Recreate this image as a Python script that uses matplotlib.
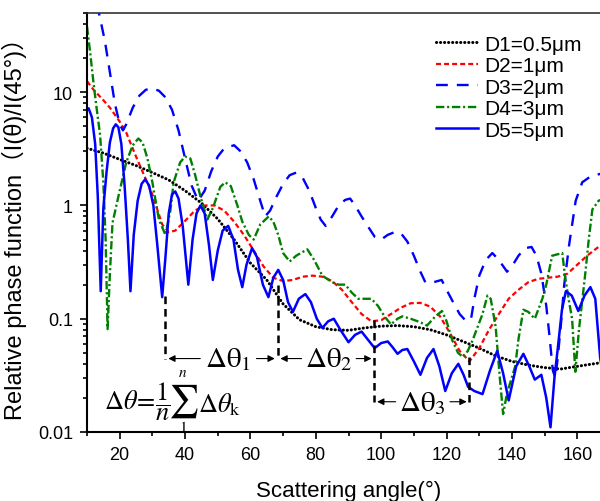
import matplotlib
matplotlib.use("Agg")
import matplotlib.pyplot as plt
from matplotlib.ticker import MultipleLocator, FixedLocator, LogLocator, NullFormatter

plt.rcParams["font.family"] = ["Liberation Sans", "Noto Sans CJK SC", "DejaVu Sans"]
plt.rcParams["mathtext.fontset"] = "stix"
plt.rcParams["lines.scale_dashes"] = False

# D1 = 0.5 um
d1_x = [10, 15, 20, 25, 30, 35, 40, 45, 50, 55, 60, 65, 70, 75, 80, 85, 90, 95, 100,
        105, 110, 115, 120, 125, 130, 135, 140, 145, 150, 155, 160, 165, 170]
d1_y = [3.2, 2.9, 2.55, 2.25, 1.95, 1.68, 1.35, 1.05, 0.76, 0.5, 0.31, 0.22, 0.135,
        0.098, 0.085, 0.08, 0.079, 0.083, 0.086, 0.087, 0.085, 0.08, 0.072, 0.063,
        0.055, 0.047, 0.042, 0.039, 0.037, 0.036, 0.038, 0.040, 0.042]

# D2 = 1 um
d2_x = [10, 12, 15, 17, 20, 22, 25, 28, 30, 33, 35, 37, 40, 43, 46, 49, 52, 55, 58, 61,
        64, 67, 70, 73, 76, 79, 82, 85, 88, 91, 94, 97, 100, 103, 106, 109, 112, 115,
        118, 121, 124, 127, 130, 133, 136, 139, 142, 145, 148, 151, 154, 157, 160, 163,
        166, 170]
d2_y = [12.5, 10.5, 8.5, 7.3, 5.5, 4.4, 2.7, 1.7, 1.25, 0.68, 0.58, 0.6, 0.73, 0.9, 1.0,
        1.0, 0.9, 0.72, 0.55, 0.4, 0.29, 0.23, 0.215, 0.22, 0.235, 0.24, 0.235, 0.215,
        0.18, 0.14, 0.11, 0.095, 0.097, 0.11, 0.125, 0.137, 0.138, 0.128, 0.105, 0.075,
        0.052, 0.042, 0.055, 0.08, 0.11, 0.15, 0.18, 0.21, 0.225, 0.23, 0.235, 0.25,
        0.3, 0.36, 0.42, 0.5]

# D3 = 2 um
d3_x = [13, 14, 15.5, 17, 18.5, 20, 21, 22, 24, 26, 28, 30, 32, 34, 36, 38, 40, 42, 44,
        46, 48, 50, 52, 55, 57, 59, 61, 63, 64.5, 66, 68, 70, 72, 74, 76, 78, 80, 81.5,
        83, 85, 87, 89, 90.5, 92, 94, 96, 98, 100, 102, 104, 106, 108, 110, 112, 113.5,
        116, 118.5, 120, 122, 124, 126, 127.5, 128.5, 130, 132, 134, 136, 138.5, 140,
        142, 144, 146, 147.5, 149, 150.5, 151.5, 152.5, 153.3, 154, 155, 156, 157.5,
        159.5, 161.5, 164, 167, 170]
d3_y = [60, 45, 28, 15, 8, 5.2, 4.6, 5.2, 7.3, 9.3, 10.5, 10.8, 10.3, 9, 7, 4.6, 2.6,
        1.5, 1.1, 1.35, 2.0, 2.7, 3.2, 3.4, 3.0, 2.4, 1.7, 1.1, 0.8, 0.9, 1.2, 1.55,
        1.85, 1.95, 1.75, 1.35, 0.95, 0.75, 0.66, 0.8, 1.0, 1.12, 1.15, 1.0, 0.8, 0.65,
        0.53, 0.5, 0.55, 0.58, 0.57, 0.48, 0.36, 0.26, 0.21, 0.21, 0.22, 0.18, 0.14,
        0.11, 0.095, 0.1, 0.15, 0.24, 0.33, 0.38, 0.33, 0.26, 0.29, 0.36, 0.42, 0.43,
        0.36, 0.25, 0.13, 0.07, 0.035, 0.03, 0.045, 0.09, 0.2, 0.45, 1.1, 1.6, 1.8,
        1.9, 2.0]

# D4 = 3 um
d4_x = [10, 11, 12, 13, 14, 15, 15.7, 16.3, 17, 17.8, 19.6, 22, 24, 25.7, 27, 28.5, 30,
        32, 34, 35.5, 36.5, 38.5, 40, 41.6, 43, 44.7, 46.8, 48.5, 50.8, 52.3, 54, 56,
        57.5, 59.5, 61, 63, 65.6, 67, 68.5, 70, 72, 74, 77.4, 79.5, 82, 85, 87, 89, 91,
        93, 97, 99, 101, 103, 105, 106.5, 109, 112, 114, 116.6, 118.6, 120, 121.7,
        123.5, 125, 126.5, 128, 131, 132.5, 133.5, 135, 136.3, 137.3, 138.5, 141, 142,
        143.5, 145, 147, 149.3, 150.5, 152.3, 155.4, 156.3, 157.5, 158.4, 159.4, 160.5,
        162.3, 163.5, 164.6, 166.5, 170]
d4_y = [38, 22, 12, 7, 4.2, 1.6, 0.5, 0.081, 0.25, 0.7, 1.2, 2.4, 3.4, 3.9, 3.6, 2.6,
        1.6, 0.75, 0.55, 0.9, 1.6, 2.4, 2.7, 2.6, 1.9, 1.2, 0.75, 0.95, 1.46, 1.6, 1.48,
        1.0, 0.72, 0.55, 0.5, 0.68, 0.8, 0.72, 0.55, 0.38, 0.32, 0.36, 0.41, 0.33, 0.24,
        0.21, 0.2, 0.2, 0.17, 0.15, 0.15, 0.13, 0.105, 0.089, 0.1, 0.105, 0.1, 0.093,
        0.087, 0.105, 0.117, 0.095, 0.065, 0.05, 0.046, 0.052, 0.065, 0.11, 0.16, 0.15,
        0.086, 0.03, 0.0144, 0.022, 0.038, 0.066, 0.12, 0.115, 0.1, 0.15, 0.2, 0.36,
        0.38, 0.23, 0.14, 0.1, 0.034, 0.08, 0.23, 0.5, 0.92, 1.1, 1.2]

# D5 = 5 um
d5_x = [10, 10.5, 11.5, 12.5, 13.3, 14.2, 15, 16, 17, 18, 18.8, 19.6, 20.5, 21.5, 22.5,
        23.3, 24.3, 25.5, 26.7, 27.8, 29, 30.3, 31.5, 33, 34, 35, 36, 37, 38, 39.3, 41,
        42.3, 43.5, 44.7, 46, 47.3, 48.5, 50, 51.5, 53.2, 54.8, 56.2, 57.5, 58.8, 60.5,
        62, 63.8, 65.5, 67, 68.5, 70, 71.5, 73, 74.8, 76.8, 78.5, 80.3, 82, 83.8, 85.5,
        87.5, 90, 92, 94, 96, 98, 100, 102, 103.5, 105, 106.5, 108, 110, 112, 114, 116,
        117.8, 119.6, 121.6, 123.6, 125.2, 126.6, 128.5, 131, 133.3, 135.5, 137.3, 139,
        141.3, 143.5, 145.3, 147, 149, 150.5, 151.8, 153, 154, 155.3, 156.5, 158.3,
        160.3, 162.2, 164, 165.5, 167, 168]
d5_y = [7.0, 7.2, 6.0, 3.5, 1.2, 0.175, 0.95, 2.0, 3.6, 4.8, 5.2, 4.9, 3.5, 1.5, 0.5,
        0.175, 0.55, 1.1, 1.55, 1.7, 1.5, 1.0, 0.45, 0.155, 0.35, 0.85, 1.25, 1.33, 1.15,
        0.65, 0.2, 0.5, 0.85, 1.0, 0.85, 0.45, 0.22, 0.4, 0.6, 0.66, 0.5, 0.27, 0.19, 0.3,
        0.42, 0.35, 0.2, 0.155, 0.23, 0.27, 0.22, 0.14, 0.115, 0.15, 0.165, 0.14, 0.1,
        0.083, 0.095, 0.1, 0.08, 0.062, 0.072, 0.077, 0.065, 0.055, 0.061, 0.063, 0.056,
        0.049, 0.053, 0.054, 0.042, 0.032, 0.045, 0.054, 0.038, 0.023, 0.033, 0.04,
        0.032, 0.025, 0.023, 0.0216, 0.035, 0.052, 0.033, 0.019, 0.038, 0.049, 0.038,
        0.029, 0.032, 0.02, 0.011, 0.03, 0.054, 0.12, 0.175, 0.16, 0.117, 0.16, 0.19,
        0.15, 0.045, 0.03]

# interval markers (angle, top of dashed line, bottom of dashed line)
mark_angles = [34, 68.3, 97.9, 127]
mark_tops = [0.16, 0.2, 0.097, 0.046]
mark_bottoms = [0.0445, 0.0445, 0.0185, 0.0185]

fig = plt.figure(figsize=(6.0, 5.02), dpi=100)
ax = fig.add_axes([87 / 600, 69 / 502, 523 / 600, 419 / 502])

ax.plot(d1_x, d1_y, color="black", lw=2.2, linestyle=(0, (0.1, 2.8)),
        dash_capstyle="round", label="D1=0.5μm")
ax.plot(d2_x, d2_y, color="red", lw=1.6, dashes=(3.6, 2.2), label="D2=1μm")
ax.plot(d3_x, d3_y, color="#0000ff", lw=1.7, dashes=(8.5, 6.5), label="D3=2μm")
ax.plot(d4_x, d4_y, color="#008000", lw=1.7, dashes=(6, 2, 1.5, 2), label="D4=3μm")
ax.plot(d5_x, d5_y, color="#0000ff", lw=1.8, label="D5=5μm")

for a, top, bot in zip(mark_angles, mark_tops, mark_bottoms):
    ax.plot([a, a], [top, bot], color="black", lw=1.8, dashes=(5.5, 3.5))

arrow = dict(arrowstyle="-|>", color="black", lw=0.8, mutation_scale=10)
txt = dict(fontsize=21, va="center", ha="center")
y12 = mark_bottoms[0]
ax.text(53, y12, r"$\Delta\mathrm{\theta}_1$", **txt)
ax.annotate("", xy=(mark_angles[0], y12), xytext=(45.5, y12), arrowprops=arrow)
ax.annotate("", xy=(mark_angles[1], y12), xytext=(61, y12), arrowprops=arrow)
ax.text(84, y12, r"$\Delta\mathrm{\theta}_2$", **txt)
ax.annotate("", xy=(mark_angles[1], y12), xytext=(76.5, y12), arrowprops=arrow)
ax.annotate("", xy=(mark_angles[2], y12), xytext=(91.5, y12), arrowprops=arrow)
y3 = mark_bottoms[2]
ax.text(112.7, y3, r"$\Delta\mathrm{\theta}_3$", **txt)
ax.annotate("", xy=(mark_angles[2], y3), xytext=(105.3, y3), arrowprops=arrow)
ax.annotate("", xy=(mark_angles[3], y3), xytext=(120.2, y3), arrowprops=arrow)

# formula, built in pieces so the sum sign can be larger
def fig_xy(px, py):
    return px / 600, 1 - py / 502

fig.text(*fig_xy(104, 402), r"$\Delta\theta\!=\!\dfrac{1}{n}$", fontsize=19,
         ha="left", va="center")
fig.text(*fig_xy(183, 401), r"$\sum$", fontsize=24, ha="center", va="center")
fig.text(*fig_xy(183, 373), r"$n$", fontsize=11, ha="center", va="center")
fig.text(*fig_xy(183, 428), r"$\mathrm{1}$", fontsize=11, ha="center", va="center")
fig.text(*fig_xy(198, 405), r"$\Delta\theta_{\mathrm{k}}$", fontsize=19,
         ha="left", va="center")

ax.set_yscale("log")
ax.set_xlim(10, 170)
ax.set_ylim(0.01, 50)
ax.xaxis.set_major_locator(FixedLocator([20, 40, 60, 80, 100, 120, 140, 160]))
ax.xaxis.set_minor_locator(MultipleLocator(10))
ax.yaxis.set_major_locator(FixedLocator([0.01, 0.1, 1, 10]))
ax.yaxis.set_major_formatter(plt.FixedFormatter(["0.01", "0.1", "1", "10"]))
ax.yaxis.set_minor_locator(LogLocator(base=10, subs=range(2, 10)))
ax.yaxis.set_minor_formatter(NullFormatter())

ax.tick_params(which="both", direction="out", labelsize=13, width=1.2)
ax.tick_params(which="major", length=5)
ax.tick_params(which="minor", length=3)
ax.tick_params(axis="x", pad=5)
ax.tick_params(axis="y", pad=5)
for s in ["left", "bottom"]:
    ax.spines[s].set_linewidth(1.5)
ax.spines["top"].set_linewidth(1.2)
ax.spines["top"].set_color("#333333")
ax.spines["right"].set_visible(False)

ax.set_xlabel("Scattering angle(°)", fontsize=16, labelpad=12)
ax.set_ylabel("Relative phase function（I(θ)/I(45°)）", fontsize=17)
ax.yaxis.set_label_coords(-0.115, 0.5)

ax.legend(loc="upper left", bbox_to_anchor=(0.652, 0.968), frameon=False, fontsize=15,
          handlelength=2.0, handletextpad=0.3, labelspacing=0.12, borderaxespad=0)

fig.savefig("out.png", dpi=100)
